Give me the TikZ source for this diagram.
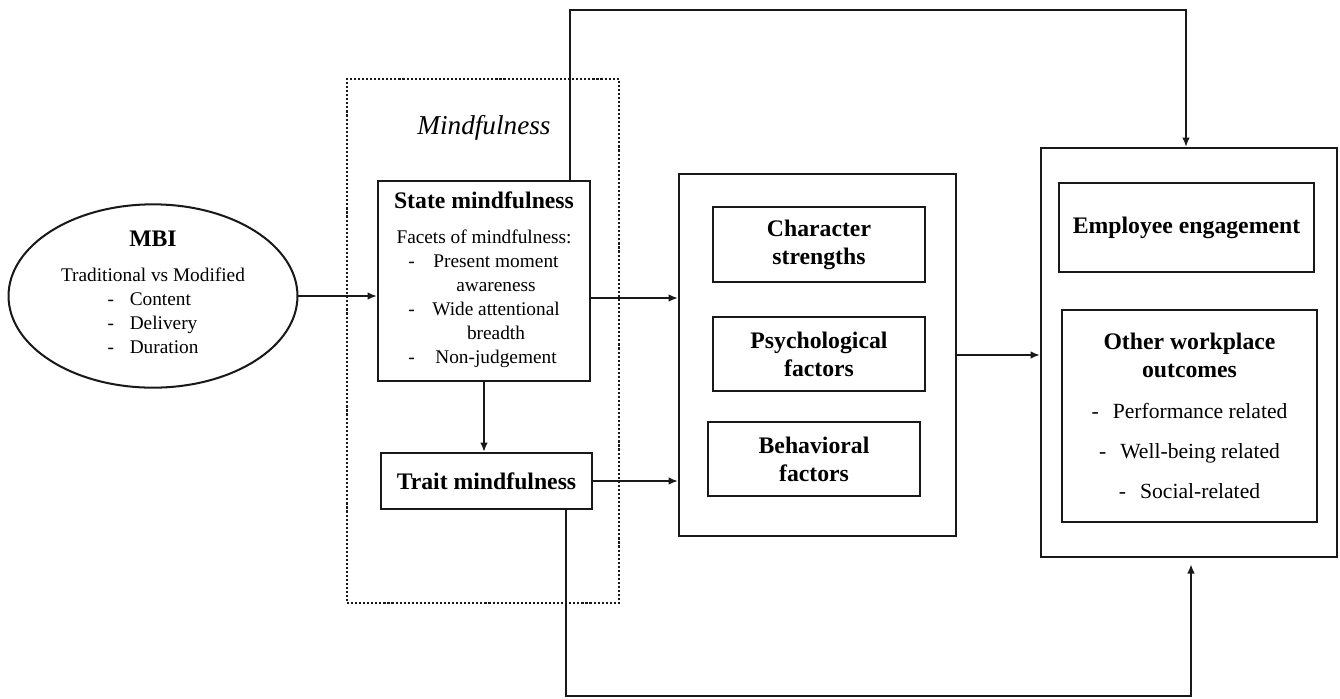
\documentclass[tikz,border=0pt]{standalone}
\usepackage{fontspec}
\setmainfont{Liberation Serif}
\usetikzlibrary{arrows.meta,shapes.geometric}

\begin{document}
\begin{tikzpicture}
[
x=0.02cm, y=-0.02cm,
Head/.style={font=\bfseries\fontsize{13.5}{16}\selectfont},
Plain/.style={font=\fontsize{11}{13.66}\selectfont},
Outer/.style={rectangle,draw=black!90,line width=1.15pt,inner sep=0pt},
Inner/.style={rectangle,draw=black!90,line width=1.15pt,inner sep=0pt,align=center,Head},
Oval/.style={ellipse,draw=black!90,line width=1.15pt,inner sep=0pt,align=center,Plain},
Frame/.style={rectangle,draw=black!90,line width=1.2pt,dash pattern=on 1.2pt off 1.1pt,inner sep=0pt},
Arrow/.style={-{Latex[length=5.4pt,width=4.4pt]},draw=black!90,line width=1.15pt},
Label/.style={font=\itshape\fontsize{15.5}{18}\selectfont}
]

\useasboundingbox (0,0) rectangle (1340,698);

% mindfulness frame
\node[Frame, minimum width=5.44cm, minimum height=10.48cm] (Mind) at (483,341) {};
\node[Label] (MindLabel) at (484,128) {Mindfulness};

% left part
\node[Oval, minimum width=5.78cm, minimum height=3.52cm] (MBI) at (153,296)
  {{\bfseries\fontsize{13.5}{16}\selectfont MBI}\\[6.2pt]
   Traditional vs Modified\\
   \begin{tabular}[t]{@{}l@{\hspace{9pt}}l@{}}-&Content\\-&Delivery\\-&Duration\end{tabular}};

\node[Outer, align=center, Plain, minimum width=4.24cm, minimum height=4.0cm] (State) at (484,281)
  {{\bfseries\fontsize{13.5}{16}\selectfont State mindfulness}\\[6.2pt]
   Facets of mindfulness:\\
   \begin{tabular}[t]{@{}c@{\hspace{10pt}}c@{}}-&Present moment\\&awareness\\-&Wide attentional\\&breadth\\-&Non-judgement\end{tabular}};

\node[Inner, minimum width=4.22cm, minimum height=1.12cm] (Trait) at (486.5,481) {Trait mindfulness};

% middle part
\node[Outer, minimum width=5.54cm, minimum height=7.24cm] (Middle) at (817.5,355) {};
\node[Inner, minimum width=4.24cm, minimum height=1.5cm] (Character) at (819,244.5) {Character\\strengths};
\node[Inner, minimum width=4.24cm, minimum height=1.48cm] (Psych) at (819,354) {Psychological\\factors};
\node[Inner, minimum width=4.24cm, minimum height=1.48cm] (Behav) at (814,459) {Behavioral\\factors};

% right part
\node[Outer, minimum width=5.92cm, minimum height=8.18cm] (Right) at (1189,352.5) {};
\node[Inner, minimum width=5.1cm, minimum height=1.78cm] (Employee) at (1186.5,227.5) {Employee engagement};
\node[Inner, minimum width=5.1cm, minimum height=4.24cm] (Other) at (1189.5,416)
  {Other workplace\\outcomes\\[7.3pt]
   \mdseries\fontsize{12.3}{14}\selectfont -\hspace{8pt}Performance related\\[6.8pt]
   \mdseries\fontsize{12.3}{14}\selectfont -\hspace{8pt}Well-being related\\[6.8pt]
   \mdseries\fontsize{12.3}{14}\selectfont -\hspace{8pt}Social-related};

% connectors
\coordinate (TopL) at (570,10);
\coordinate (TopR) at (1186,10);
\coordinate (BotL) at (566,696);
\coordinate (BotR) at (1191,696);

\draw[Arrow] (MBI.east) -- (MBI.east -| State.west);
\draw[Arrow] (State.south) -- (State.south |- Trait.north);
\draw[Arrow] ([yshift=-0.34cm]State.east) -- ([yshift=-0.34cm]State.east -| Middle.west);
\draw[Arrow] (Trait.east) -- (Trait.east -| Middle.west);
\draw[Arrow] (Middle.east) -- (Middle.east -| Right.west);
\draw[Arrow] (TopL |- State.north) -- (TopL) -- (TopR) -- (TopR |- Right.north);
\draw[Arrow, shorten >=3.5pt] (BotL |- Trait.south) -- (BotL) -- (BotR) -- (BotR |- Right.south);
\end{tikzpicture}
\end{document}
